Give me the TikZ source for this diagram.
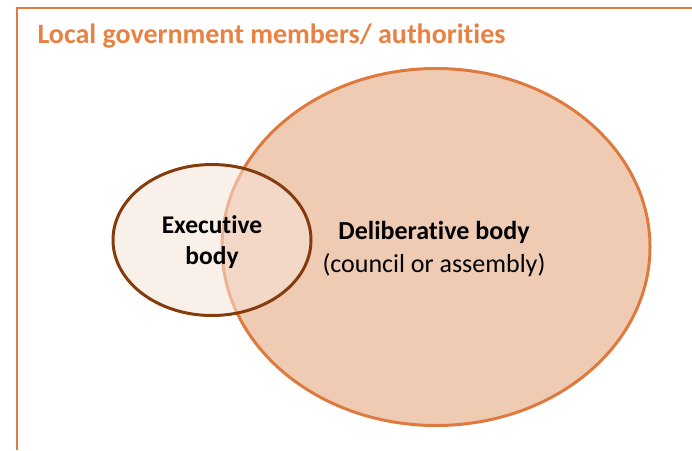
\documentclass[tikz,border=0pt]{standalone}
\usepackage{fontspec}
\setmainfont[Ligatures={NoCommon}]{Carlito}
\usetikzlibrary{shapes.geometric}
\definecolor{frameorange}{RGB}{224,124,64}
\definecolor{titleorange}{RGB}{232,130,66}
\definecolor{delibfill}{RGB}{240,203,180}
\definecolor{delibline}{RGB}{222,122,62}
\definecolor{execfill}{RGB}{246,228,217}
\definecolor{execline}{RGB}{132,60,12}
\begin{document}
\begin{tikzpicture}[x=1pt,y=-1pt,
    frame line/.style={draw=frameorange,line width=2.8pt},
    body/.style={ellipse,inner sep=0pt},
    delib node/.style={body,draw=delibline,fill=delibfill,line width=3pt},
    exec node/.style={body,draw=execline,fill=execfill,fill opacity=0.55,line width=3pt},
    body text/.style={align=center,font=\fontsize{25.5}{31}\selectfont}]
    \useasboundingbox (0,0) rectangle (692,450);
    \coordinate (top right) at (692,8);
    \coordinate (corner) at (17,8);
    \coordinate (bottom left) at (17,450);
    \draw[frame line] (top right) -- (corner) -- (bottom left);

    \node[anchor=west,text=titleorange,font=\fontsize{28}{32}\selectfont\bfseries] (title) at (34,36) {Local government members/ authorities};

    \node[delib node,minimum width=428,minimum height=357] (delib) at (436,247) {};
    \node[exec node,minimum width=198,minimum height=151] (exec) at (212,240) {};
    \node[body text] (exec text) at (212,242) {\textbf{Executive}\\\textbf{body}};
    \node[body text,font=\fontsize{26}{33}\selectfont] (delib text) at (434,249) {\textbf{Deliberative body}\\(council or assembly)};
\end{tikzpicture}
\end{document}
